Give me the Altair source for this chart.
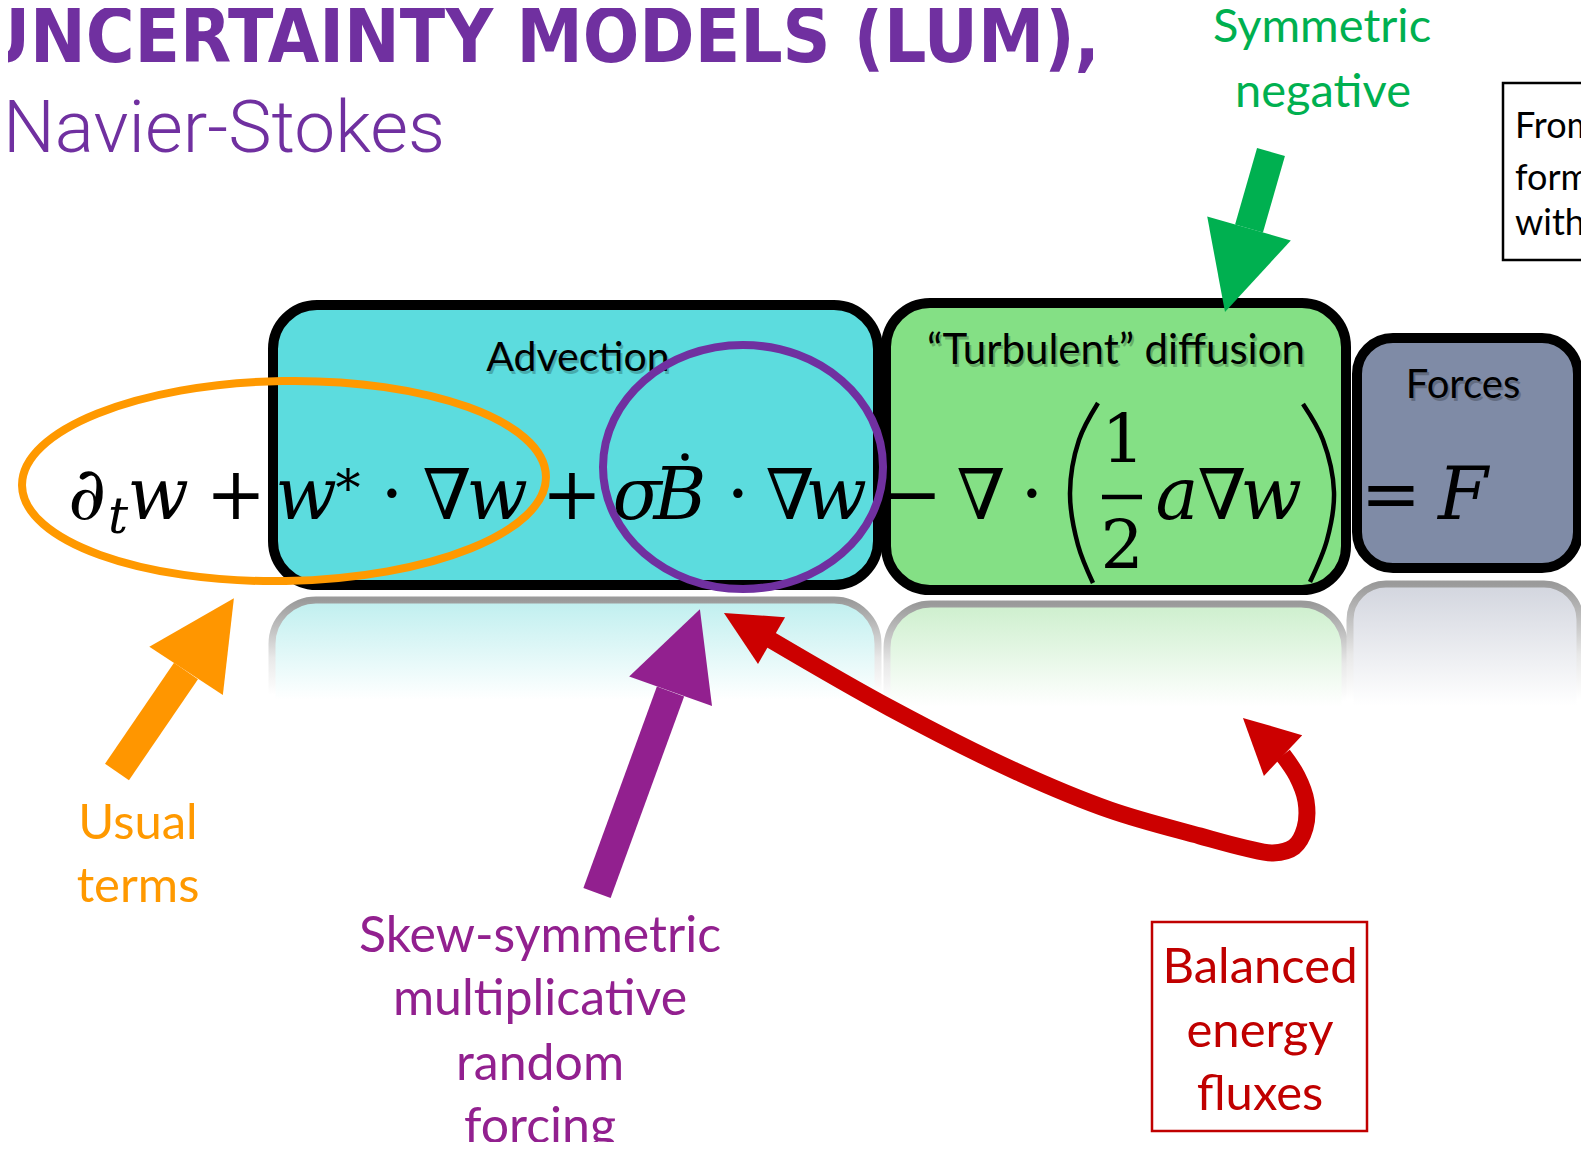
import math
import altair as alt
import pandas as pd

# ---------------- canvas (page pixel coordinates) ----------------
W, H = 1573, 1134
XD = [8, 8 + W]
YD = [8, 8 + H]

# ---------------- data ----------------
title_text = ["UNCERTAINTY MODELS (LUM),", "Navier-Stokes"]

box_label = ["Advection", "\u201cTurbulent\u201d diffusion", "Forces"]
box_x1 = [273, 886, 1357]
box_x2 = [878, 1346, 1578]
box_y1 = [305, 303, 338]
box_y2 = [585, 590, 568]
box_fill = ["#5CDCDE", "#84E085", "#7F8BA6"]
box_radius = [44, 44, 36]
box_label_x = [578, 1116, 1463]
box_label_y = [371, 364, 398]
box_label_size = [41, 42, 40]

refl_x1 = [272, 887, 1350]
refl_x2 = [878, 1345, 1580]
refl_y1 = [600, 604, 584]
refl_y2 = [705, 712, 712]
refl_top = ["#BFEFEF", "#CDEFCD", "#D2D5DE"]

eq_text = ["\u2202", "t", "w", "+", "w", "*", "\u00b7", "\u2207", "w", "+", "\u03c3", "B", "\u00b7",
           "\u2207", "w", "\u2212", "\u2207", "\u00b7", "1", "2", "a", "\u2207", "w", "=", "F"]
eq_x = [87, 118, 158, 236, 306, 348, 392, 447, 497, 572, 637, 680, 738,
        790, 836, 912, 981, 1032, 1123, 1122, 1177, 1222, 1271, 1391, 1463]
eq_y = [519, 533, 519, 519, 519, 506, 519, 519, 519, 519, 519, 519, 519,
        519, 519, 519, 519, 519, 462, 568, 519, 519, 519, 519, 519]
eq_size = [74, 50, 72, 72, 72, 50, 72, 70, 72, 72, 72, 72, 72,
           70, 72, 72, 70, 72, 68, 68, 72, 70, 72, 72, 72]
eq_italic = [1, 1, 1, 0, 1, 0, 0, 1, 1, 0, 1, 1, 0,
             1, 1, 0, 1, 0, 0, 0, 1, 1, 1, 0, 1]

# ellipses: centre, half axes, rotation, colour
ell_cx = [284, 743]
ell_cy = [481, 467]
ell_rx = [262, 140]
ell_ry = [100, 122]
ell_angle = [359, 0]
ell_color = ["#FF9900", "#7030A0"]

# curves / shafts (ordered points per series)
line_id = (["pl"] * 5 + ["pr"] * 5 + ["fr"] * 2 + ["or"] * 2 + ["pu"] * 2 + ["gr"] * 2 + ["rd"] * 12)
line_x = [1098, 1079, 1070, 1078, 1093,
          1303, 1323, 1334, 1327, 1310,
          1102, 1142,
          117, 186,
          597, 670.5,
          1271, 1249,
          771, 890, 1013, 1110, 1200, 1245, 1273, 1294, 1305, 1306, 1297, 1283]
line_y = [403, 440, 493, 545, 583,
          404, 440, 492, 540, 582,
          497, 497,
          772, 671,
          893, 691.5,
          152, 228.5,
          640, 708, 770, 810, 836, 848, 853, 847, 828, 801, 776, 755]
series_color = {"pl": "#000000", "pr": "#000000", "fr": "#000000", "or": "#FF9600",
                "pu": "#92208F", "gr": "#00B050", "rd": "#CC0000"}
series_width = {"pl": 4.5, "pr": 4.5, "fr": 4.5, "or": 29, "pu": 29, "gr": 29, "rd": 17}

# arrow heads: tip, base mid, length, width, colour
head_tip_x = [234, 700, 1225, 724, 1243]
head_tip_y = [598, 609, 312, 613, 718]
head_base_x = [186, 670.5, 1249, 771.5, 1283]
head_base_y = [671, 691.5, 228.5, 640.5, 755.5]
head_len = [87, 87, 87, 55, 55]
head_wid = [88, 88, 87, 54, 56]
head_color = ["#FF9600", "#92208F", "#00B050", "#CC0000", "#CC0000"]

label_text = ["Symmetric", "negative", "Usual", "terms", "Skew-symmetric", "multiplicative",
              "random", "forcing", "Balanced", "energy", "fluxes"]
label_x = [1322, 1323, 138, 138, 540, 540, 540, 540, 1260, 1260, 1260]
label_y = [42, 107, 839, 902, 952, 1015, 1080, 1143, 983, 1047, 1110]
label_color = ["#00B050", "#00B050", "#FF9900", "#FF9900", "#92208F", "#92208F", "#92208F",
               "#92208F", "#C00000", "#C00000", "#C00000"]
label_size = [47, 47, 49, 49, 50, 50, 50, 50, 49, 49, 49]

note_text = ["From", "form", "with"]
note_y = [138, 190, 235]

frame_x1 = [1152, 1503]
frame_x2 = [1367, 1610]
frame_y1 = [922, 83]
frame_y2 = [1131, 260]
frame_color = ["#C00000", "#000000"]

# ---------------- helpers ----------------
def X(f):
    return alt.X(f, type="quantitative", scale=alt.Scale(domain=XD, nice=False, zero=False), axis=None)


def Y(f):
    return alt.Y(f, type="quantitative", scale=alt.Scale(domain=YD, nice=False, zero=False, reverse=True), axis=None)


layers = []

# reflections
for i in range(3):
    d = pd.DataFrame({"x": [refl_x1[i]], "x2": [refl_x2[i]], "y": [refl_y1[i]], "y2": [refl_y2[i]]})
    fillg = alt.LinearGradient(gradient="linear", x1=0, x2=0, y1=0, y2=1,
                               stops=[alt.GradientStop(color=refl_top[i], offset=0),
                                      alt.GradientStop(color="#FFFFFF", offset=0.95)])
    strokeg = alt.LinearGradient(gradient="linear", x1=0, x2=0, y1=0, y2=1,
                                 stops=[alt.GradientStop(color="#9A9A9A", offset=0),
                                        alt.GradientStop(color="#E8E8E8", offset=0.55),
                                        alt.GradientStop(color="#FFFFFF", offset=0.9)])
    layers.append(alt.Chart(d).mark_rect(fill=fillg, stroke=strokeg, strokeWidth=7,
                                         cornerRadiusTopLeft=box_radius[i], cornerRadiusTopRight=box_radius[i])
                  .encode(x=X("x"), x2="x2", y=Y("y"), y2="y2"))

# boxes
for i in range(3):
    d = pd.DataFrame({"x": [box_x1[i]], "x2": [box_x2[i]], "y": [box_y1[i]], "y2": [box_y2[i]]})
    layers.append(alt.Chart(d).mark_rect(fill=box_fill[i], stroke="#000000", strokeWidth=10,
                                         cornerRadius=box_radius[i])
                  .encode(x=X("x"), x2="x2", y=Y("y"), y2="y2"))

# box labels with soft shadow
bl = pd.DataFrame({"t": box_label, "x": box_label_x, "y": box_label_y, "s": box_label_size})
bls = bl.assign(x=[v + 2 for v in box_label_x], y=[v + 3 for v in box_label_y])
layers.append(alt.Chart(bls).mark_text(font="Lato", align="center", baseline="alphabetic",
                                       color="#000000", opacity=0.22)
              .encode(x=X("x"), y=Y("y"), text="t:N", size=alt.Size("s:Q", scale=None)))
layers.append(alt.Chart(bl).mark_text(font="Lato", align="center", baseline="alphabetic", color="#000000")
              .encode(x=X("x"), y=Y("y"), text="t:N", size=alt.Size("s:Q", scale=None)))

# ellipses (custom symbol paths)
k = 0.5523
ell_path = []
for rx, ry in zip(ell_rx, ell_ry):
    r = ry / rx
    ell_path.append(
        f"M-1,0C-1,{-k*r:.4f} {-k},{-r:.4f} 0,{-r:.4f}C{k},{-r:.4f} 1,{-k*r:.4f} 1,0"
        f"C1,{k*r:.4f} {k},{r:.4f} 0,{r:.4f}C{-k},{r:.4f} -1,{k*r:.4f} -1,0Z")
ell = pd.DataFrame({"x": ell_cx, "y": ell_cy, "p": ell_path, "s": [(2 * v) ** 2 for v in ell_rx],
                    "a": ell_angle, "c": ell_color})
layers.append(alt.Chart(ell).mark_point(filled=False, opacity=1, strokeWidth=8)
              .encode(x=X("x"), y=Y("y"), shape=alt.Shape("p:N", scale=None),
                      size=alt.Size("s:Q", scale=None), angle=alt.Angle("a:Q", scale=None),
                      color=alt.Color("c:N", scale=None)))

# equation
eq = pd.DataFrame({"t": eq_text, "x": eq_x, "y": eq_y, "s": eq_size, "i": eq_italic})
for flag, style in [(1, "italic"), (0, "normal")]:
    layers.append(alt.Chart(eq[eq["i"] == flag]).mark_text(font="DejaVu Serif", fontStyle=style,
                                                          align="center", baseline="alphabetic",
                                                          color="#000000")
                  .encode(x=X("x"), y=Y("y"), text="t:N", size=alt.Size("s:Q", scale=None)))
# dot accent over B
layers.append(alt.Chart(pd.DataFrame({"x": [685], "y": [457]})).mark_point(
    filled=True, shape="circle", size=55, color="#000000", opacity=1)
    .encode(x=X("x"), y=Y("y")))

# lines: parentheses, fraction bar, arrow shafts
ld = pd.DataFrame({"id": line_id, "x": line_x, "y": line_y})
ld["o"] = range(len(ld))
ld["c"] = [series_color[v] for v in line_id]
ld["w"] = [series_width[v] for v in line_id]
layers.append(alt.Chart(ld).mark_line(interpolate="catmull-rom", strokeCap="butt", strokeJoin="round")
              .encode(x=X("x"), y=Y("y"), detail="id:N", order="o:Q",
                      color=alt.Color("c:N", scale=None), strokeWidth=alt.StrokeWidth("w:Q", scale=None)))

# arrow heads
hx, hy, hp, hs, ha = [], [], [], [], []
for tx, ty, bx, by, L, Wd in zip(head_tip_x, head_tip_y, head_base_x, head_base_y, head_len, head_wid):
    hx.append((tx + bx) / 2)
    hy.append((ty + by) / 2)
    rr = Wd / L
    hp.append(f"M0,-1L{rr:.4f},1L{-rr:.4f},1Z")
    hs.append(L * L)
    ha.append(math.degrees(math.atan2(tx - bx, -(ty - by))) % 360)
hd = pd.DataFrame({"x": hx, "y": hy, "p": hp, "s": hs, "a": ha, "c": head_color})
layers.append(alt.Chart(hd).mark_point(filled=True, opacity=1, strokeWidth=0)
              .encode(x=X("x"), y=Y("y"), shape=alt.Shape("p:N", scale=None),
                      size=alt.Size("s:Q", scale=None), angle=alt.Angle("a:Q", scale=None),
                      color=alt.Color("c:N", scale=None)))

# frames
fr = pd.DataFrame({"x": frame_x1, "x2": frame_x2, "y": frame_y1, "y2": frame_y2, "c": frame_color})
layers.append(alt.Chart(fr).mark_rect(fillOpacity=0, strokeWidth=2.5)
              .encode(x=X("x"), x2="x2", y=Y("y"), y2="y2", stroke=alt.Stroke("c:N", scale=None)))

# labels
lb = pd.DataFrame({"t": label_text, "x": label_x, "y": label_y, "c": label_color, "s": label_size})
layers.append(alt.Chart(lb).mark_text(font="Lato", align="center", baseline="alphabetic")
              .encode(x=X("x"), y=Y("y"), text="t:N", size=alt.Size("s:Q", scale=None),
                      color=alt.Color("c:N", scale=None)))
nt = pd.DataFrame({"t": note_text, "x": [1515] * 3, "y": note_y})
layers.append(alt.Chart(nt).mark_text(font="Lato", align="left", baseline="alphabetic", fontSize=36,
                                      color="#000000")
              .encode(x=X("x"), y=Y("y"), text="t:N"))

# titles
layers.append(alt.Chart(pd.DataFrame({"t": [title_text[0]], "x": [-24], "y": [62]}))
              .mark_text(font="DejaVu Sans Condensed, Liberation Sans, sans-serif", fontWeight="bold",
                         fontSize=74, align="left", baseline="alphabetic", color="#7030A0")
              .encode(x=X("x"), y=Y("y"), text="t:N"))
layers.append(alt.Chart(pd.DataFrame({"t": [title_text[1]], "x": [3], "y": [152]}))
              .mark_text(font="Roboto", fontWeight=300, fontSize=73, align="left",
                         baseline="alphabetic", color="#7030A0")
              .encode(x=X("x"), y=Y("y"), text="t:N"))

chart = (alt.layer(*layers)
         .properties(width=W, height=H, padding=0, autosize=alt.AutoSizeParams(type="none"),
                     background="#FFFFFF")
         .configure_view(strokeWidth=0))

chart.save("out.html", embed_options={"renderer": "svg", "actions": False})
